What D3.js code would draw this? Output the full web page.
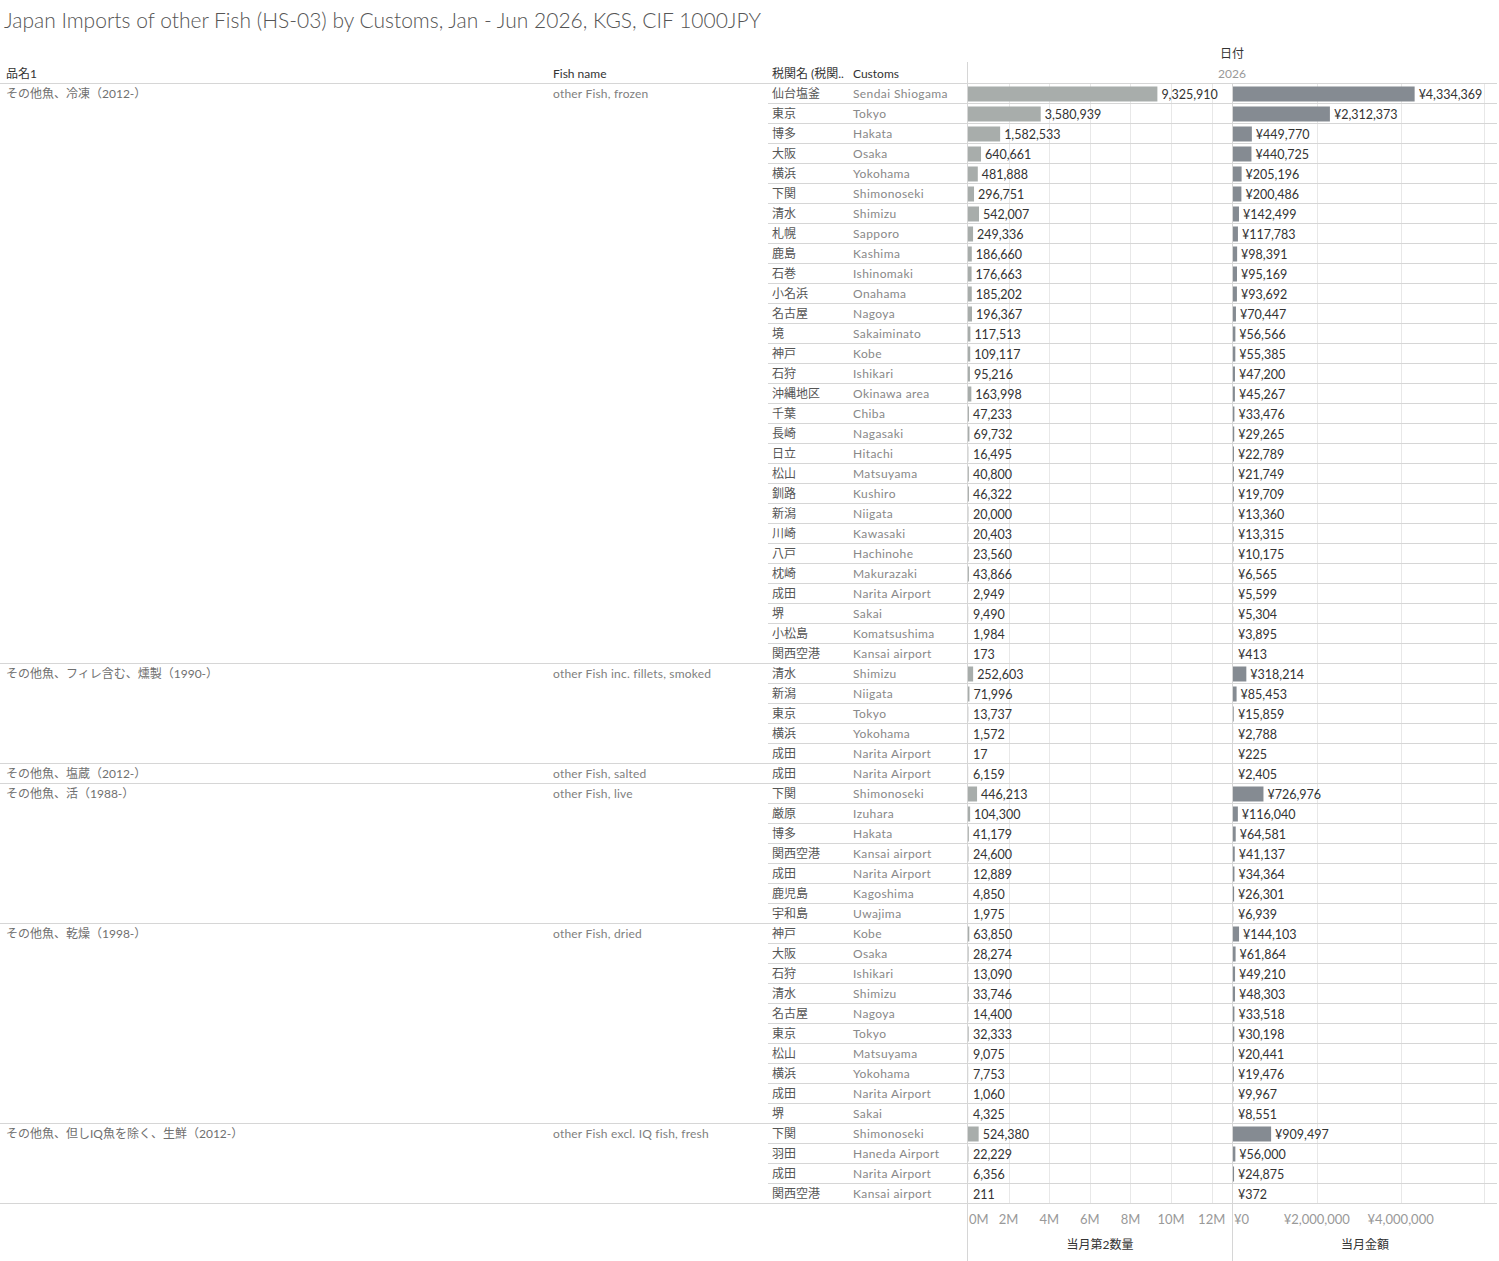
<!DOCTYPE html>
<html>
<head>
<meta charset="utf-8">
<script src="https://cdn.jsdelivr.net/npm/d3@7"></script>
<style>
  body { margin: 0; background: #fff; }
  svg text { font-family: Lato, "Noto Sans CJK JP", sans-serif; }
</style>
</head>
<body>
<div class="chart"></div>
<script>
// product groups (品名1 / Fish name) and how many customs rows each has
var productJa = ['その他魚、冷凍（2012-）', 'その他魚、フィレ含む、燻製（1990-）', 'その他魚、塩蔵（2012-）',
  'その他魚、活（1988-）', 'その他魚、乾燥（1998-）', 'その他魚、但しIQ魚を除く、生鮮（2012-）']
var productEn = ['other Fish, frozen', 'other Fish inc. fillets, smoked', 'other Fish, salted',
  'other Fish, live', 'other Fish, dried', 'other Fish excl. IQ fish, fresh']
var productRows = [29, 5, 1, 7, 10, 4]

var customsJa = [
  '仙台塩釜', '東京', '博多', '大阪', '横浜', '下関', '清水', '札幌', '鹿島', '石巻', '小名浜', '名古屋', '境', '神戸', '石狩',
  '沖縄地区', '千葉', '長崎', '日立', '松山', '釧路', '新潟', '川崎', '八戸', '枕崎', '成田', '堺', '小松島', '関西空港',
  '清水', '新潟', '東京', '横浜', '成田',
  '成田',
  '下関', '厳原', '博多', '関西空港', '成田', '鹿児島', '宇和島',
  '神戸', '大阪', '石狩', '清水', '名古屋', '東京', '松山', '横浜', '成田', '堺',
  '下関', '羽田', '成田', '関西空港']
var customsEn = [
  'Sendai Shiogama', 'Tokyo', 'Hakata', 'Osaka', 'Yokohama', 'Shimonoseki', 'Shimizu', 'Sapporo', 'Kashima', 'Ishinomaki',
  'Onahama', 'Nagoya', 'Sakaiminato', 'Kobe', 'Ishikari', 'Okinawa area', 'Chiba', 'Nagasaki', 'Hitachi', 'Matsuyama',
  'Kushiro', 'Niigata', 'Kawasaki', 'Hachinohe', 'Makurazaki', 'Narita Airport', 'Sakai', 'Komatsushima', 'Kansai airport',
  'Shimizu', 'Niigata', 'Tokyo', 'Yokohama', 'Narita Airport',
  'Narita Airport',
  'Shimonoseki', 'Izuhara', 'Hakata', 'Kansai airport', 'Narita Airport', 'Kagoshima', 'Uwajima',
  'Kobe', 'Osaka', 'Ishikari', 'Shimizu', 'Nagoya', 'Tokyo', 'Matsuyama', 'Yokohama', 'Narita Airport', 'Sakai',
  'Shimonoseki', 'Haneda Airport', 'Narita Airport', 'Kansai airport']
// 当月第2数量 (KGS)
var quantity = [
  9325910, 3580939, 1582533, 640661, 481888, 296751, 542007, 249336, 186660, 176663, 185202, 196367, 117513, 109117, 95216,
  163998, 47233, 69732, 16495, 40800, 46322, 20000, 20403, 23560, 43866, 2949, 9490, 1984, 173,
  252603, 71996, 13737, 1572, 17,
  6159,
  446213, 104300, 41179, 24600, 12889, 4850, 1975,
  63850, 28274, 13090, 33746, 14400, 32333, 9075, 7753, 1060, 4325,
  524380, 22229, 6356, 211]
// 当月金額 (1000JPY)
var amount = [
  4334369, 2312373, 449770, 440725, 205196, 200486, 142499, 117783, 98391, 95169, 93692, 70447, 56566, 55385, 47200,
  45267, 33476, 29265, 22789, 21749, 19709, 13360, 13315, 10175, 6565, 5599, 5304, 3895, 413,
  318214, 85453, 15859, 2788, 225,
  2405,
  726976, 116040, 64581, 41137, 34364, 26301, 6939,
  144103, 61864, 49210, 48303, 33518, 30198, 20441, 19476, 9967, 8551,
  909497, 56000, 24875, 372]
var quantityTicks = [0, 2e6, 4e6, 6e6, 8e6, 10e6, 12e6]
var amountTicks = [0, 2e6, 4e6]
var amountGrid = [2e6, 4e6, 6e6]

var width = 1499
var height = 1261
var topY = 84
var rowH = 20
var n = quantity.length
var qLeft = 968, qRight = 1232, aLeft = 1233, aRight = 1497
var lineColor = '#d6d6d6'
var gridColor = '#e8e8e8'

var svg = d3.select('.chart')
  .append('svg')
  .attr('width', width)
  .attr('height', height)

var y = d3.scaleBand()
  .domain(d3.range(n))
  .range([topY, topY + n * rowH])
  .paddingInner(0.25)
  .paddingOuter(0.125)
var xq = d3.scaleLinear().domain([0, 13e6]).range([qLeft, qRight])
var xa = d3.scaleLinear().domain([0, 6.3e6]).range([aLeft, aRight])
var fmt = d3.format(',')

// title
svg.append('text')
  .attr('x', 4)
  .attr('y', 28)
  .attr('font-size', '21px')
  .attr('font-weight', 300)
  .attr('fill', '#555')
  .text('Japan Imports of other Fish (HS-03) by Customs, Jan - Jun 2026, KGS, CIF 1000JPY')

// headers
svg.append('text').attr('x', 1232).attr('y', 58).attr('text-anchor', 'middle')
  .attr('font-size', '12px').attr('fill', '#333').text('日付')
svg.append('text').attr('x', 1232).attr('y', 78).attr('text-anchor', 'middle')
  .attr('font-size', '12px').attr('fill', '#999').text('2026')
svg.selectAll('.col-header')
  .data([[6, '品名1'], [553, 'Fish name'], [772, '税関名 (税関..'], [853, 'Customs']])
  .enter()
  .append('text')
  .attr('class', 'col-header')
  .attr('x', function (d) { return d[0] })
  .attr('y', 78)
  .attr('font-size', '12px')
  .attr('fill', '#333')
  .text(function (d) { return d[1] })

// gridlines
var bottom = topY + n * rowH
svg.selectAll('.qgrid')
  .data(quantityTicks.slice(1))
  .enter()
  .append('line')
  .attr('class', 'qgrid')
  .attr('x1', function (d) { return Math.round(xq(d)) + 0.5 })
  .attr('x2', function (d) { return Math.round(xq(d)) + 0.5 })
  .attr('y1', topY)
  .attr('y2', bottom)
  .attr('stroke', gridColor)
svg.selectAll('.agrid')
  .data(amountGrid)
  .enter()
  .append('line')
  .attr('class', 'agrid')
  .attr('x1', function (d) { return Math.round(xa(d)) + 0.5 })
  .attr('x2', function (d) { return Math.round(xa(d)) + 0.5 })
  .attr('y1', topY)
  .attr('y2', bottom)
  .attr('stroke', gridColor)

// row separators within groups, and group separators across full width
var groupStart = [0]
productRows.forEach(function (c, i) { groupStart.push(groupStart[i] + c) })
var rowLines = d3.range(1, n).filter(function (i) { return groupStart.indexOf(i) < 0 })
svg.selectAll('.rowline')
  .data(rowLines)
  .enter()
  .append('line')
  .attr('class', 'rowline')
  .attr('x1', 768)
  .attr('x2', aRight)
  .attr('y1', function (i) { return topY + i * rowH - 0.5 })
  .attr('y2', function (i) { return topY + i * rowH - 0.5 })
  .attr('stroke', lineColor)
svg.selectAll('.groupline')
  .data(groupStart)
  .enter()
  .append('line')
  .attr('class', 'groupline')
  .attr('x1', 0)
  .attr('x2', aRight)
  .attr('y1', function (i) { return topY + i * rowH - 0.5 })
  .attr('y2', function (i) { return topY + i * rowH - 0.5 })
  .attr('stroke', lineColor)

// pane dividers
svg.append('line').attr('x1', qLeft - 0.5).attr('x2', qLeft - 0.5).attr('y1', 62).attr('y2', height)
  .attr('stroke', lineColor)
svg.append('line').attr('x1', qRight + 0.5).attr('x2', qRight + 0.5).attr('y1', topY).attr('y2', height)
  .attr('stroke', lineColor)

// group labels
svg.selectAll('.prod-ja')
  .data(productJa)
  .enter()
  .append('text')
  .attr('class', 'prod-ja')
  .attr('x', 6)
  .attr('y', function (d, i) { return topY + groupStart[i] * rowH + 14 })
  .attr('font-size', '12px')
  .attr('fill', '#707070')
  .text(function (d) { return d })
svg.selectAll('.prod-en')
  .data(productEn)
  .enter()
  .append('text')
  .attr('class', 'prod-en')
  .attr('x', 553)
  .attr('y', function (d, i) { return topY + groupStart[i] * rowH + 14 })
  .attr('font-size', '12px')
  .attr('fill', '#808080')
  .attr('letter-spacing', '0.2px')
  .text(function (d) { return d })

// customs labels
svg.selectAll('.cus-ja')
  .data(customsJa)
  .enter()
  .append('text')
  .attr('class', 'cus-ja')
  .attr('x', 772)
  .attr('y', function (d, i) { return topY + i * rowH + 14 })
  .attr('font-size', '12px')
  .attr('fill', '#555')
  .text(function (d) { return d })
svg.selectAll('.cus-en')
  .data(customsEn)
  .enter()
  .append('text')
  .attr('class', 'cus-en')
  .attr('x', 853)
  .attr('y', function (d, i) { return topY + i * rowH + 14 })
  .attr('font-size', '12px')
  .attr('fill', '#888')
  .attr('letter-spacing', '0.4px')
  .text(function (d) { return d })

// bars
svg.selectAll('.qbar')
  .data(quantity)
  .enter()
  .append('rect')
  .attr('class', 'qbar')
  .attr('x', qLeft)
  .attr('y', function (d, i) { return y(i) })
  .attr('width', function (d) { return xq(d) - qLeft })
  .attr('height', y.bandwidth())
  .attr('fill', '#a8adab')
svg.selectAll('.abar')
  .data(amount)
  .enter()
  .append('rect')
  .attr('class', 'abar')
  .attr('x', aLeft)
  .attr('y', function (d, i) { return y(i) })
  .attr('width', function (d) { return xa(d) - aLeft })
  .attr('height', y.bandwidth())
  .attr('fill', '#858b92')

// value labels
svg.selectAll('.qlabel')
  .data(quantity)
  .enter()
  .append('text')
  .attr('class', 'qlabel')
  .attr('x', function (d) { return Math.max(xq(d), qLeft + 1) + 4 })
  .attr('y', function (d, i) { return topY + i * rowH + 14.5 })
  .attr('font-size', '12.5px')
  .attr('fill', '#333')
  .text(function (d) { return fmt(d) })
svg.selectAll('.alabel')
  .data(amount)
  .enter()
  .append('text')
  .attr('class', 'alabel')
  .attr('x', function (d) { return Math.max(xa(d), aLeft + 1) + 4 })
  .attr('y', function (d, i) { return topY + i * rowH + 14.5 })
  .attr('font-size', '12.5px')
  .attr('fill', '#333')
  .text(function (d) { return '¥' + fmt(d) })

// axes (tick labels only)
svg.selectAll('.qtick')
  .data(quantityTicks)
  .enter()
  .append('text')
  .attr('class', 'qtick')
  .attr('x', function (d) { return d === 0 ? qLeft + 1 : xq(d) })
  .attr('y', 1224)
  .attr('text-anchor', function (d) { return d === 0 ? 'start' : 'middle' })
  .attr('font-size', '13px')
  .attr('fill', '#999')
  .text(function (d) { return (d / 1e6) + 'M' })
svg.selectAll('.atick')
  .data(amountTicks)
  .enter()
  .append('text')
  .attr('class', 'atick')
  .attr('x', function (d) { return d === 0 ? aLeft + 1 : xa(d) })
  .attr('y', 1224)
  .attr('text-anchor', function (d) { return d === 0 ? 'start' : 'middle' })
  .attr('font-size', '13px')
  .attr('fill', '#999')
  .text(function (d) { return '¥' + fmt(d) })

svg.append('text').attr('x', (qLeft + qRight) / 2).attr('y', 1249).attr('text-anchor', 'middle')
  .attr('font-size', '12px').attr('fill', '#333').text('当月第2数量')
svg.append('text').attr('x', (aLeft + aRight) / 2).attr('y', 1249).attr('text-anchor', 'middle')
  .attr('font-size', '12px').attr('fill', '#333').text('当月金額')
</script>
</body>
</html>
